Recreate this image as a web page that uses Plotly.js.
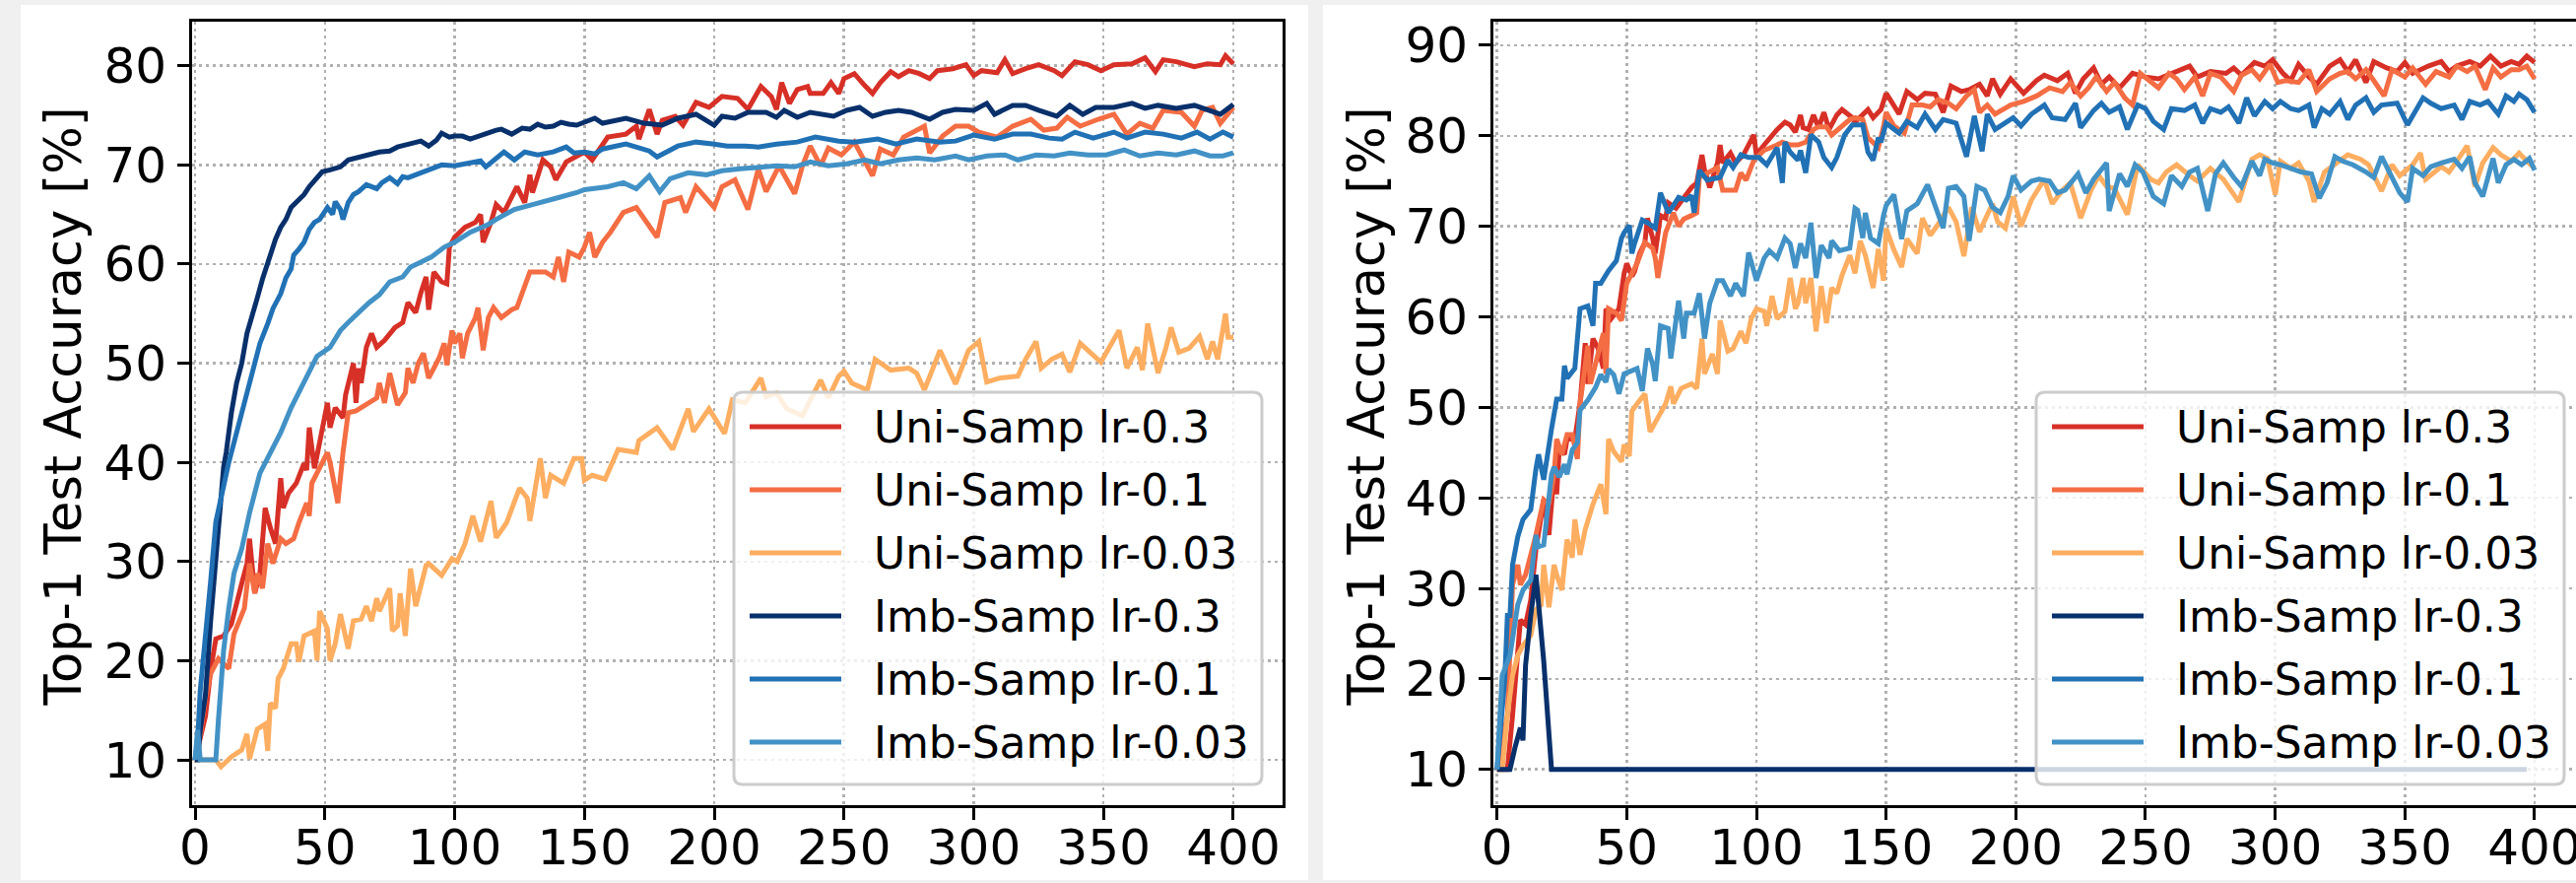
<!DOCTYPE html>
<html>
<head>
<meta charset="utf-8">
<script src="https://cdn.plot.ly/plotly-3.0.1.min.js"></script>
<style>
  html, body { margin: 0; padding: 0; background: #f0f0f0; overflow: hidden; }
  #chart { width: 2660px; height: 896px; }
</style>
</head>
<body>
<div id="chart"></div>
<script>
// ---------------- DATA (epoch, top-1 accuracy %) ----------------
const seriesNames = ['Uni-Samp lr-0.3', 'Uni-Samp lr-0.1', 'Uni-Samp lr-0.03',
                     'Imb-Samp lr-0.3', 'Imb-Samp lr-0.1', 'Imb-Samp lr-0.03'];
const xTicks = [0, 50, 100, 150, 200, 250, 300, 350, 400];
const yTitle = 'Top-1 Test Accuracy [%]';

// Left panel
const leftUni03 = [[0,10],[2,12],[4,14.4],[6,19],[8,22.2],[11,22.5],[14,23.7],[18,27.8],[20,29.8],[21,32.3],[23,26.8],[25,28.8],[27,35.4],[29,33.4],[31,31.8],[33,38.4],[34,35.4],[36,36.9],[39,37.9],[42,39.9],[43,39.2],[44,43.5],[46,39.4],[48,42],[51,46],[52,43.5],[54,45.5],[57,44.5],[58,46.8],[61,50],[62,46],[63,49.5],[64,48],[66,51.6],[68,53],[70,51.6],[73,52.3],[77,53.6],[80,54.1],[82,56.1],[85,55.1],[87,57.1],[89,58.7],[90,55.4],[92,59.2],[95,58.2],[97,58],[98,61.7],[100,62.7],[104,63.7],[108,64.2],[110,65],[111,62.2],[114,64.2],[116,66],[119,65.2],[124,67.8],[127,66.2],[129,69],[130,67.2],[134,70.5],[137,69.8],[139,68.5],[143,70.3],[147,70.8],[150,71.3],[153,70.5],[159,72.8],[166,73.1],[170,73.9],[171,72.6],[175,75.6],[178,73.1],[180,74.5],[185,74.9],[188,74],[193,76.3],[198,75.8],[203,76.9],[209,76.7],[213,75.6],[218,77.9],[222,76.9],[224,75.6],[226,78.3],[229,76.2],[232,77.6],[236,77.9],[237,77.2],[242,77.2],[245,78.3],[248,77.2],[250,78.7],[254,79.2],[258,78],[261,77.2],[264,78.3],[268,79.4],[271,78.9],[275,79.5],[279,79.2],[283,78.7],[286,79.5],[292,79.7],[297,80.1],[300,79],[303,79.5],[309,79.3],[312,80.6],[315,79.2],[320,79.7],[325,80.1],[331,79.5],[334,79],[339,80.4],[344,80.1],[349,79.5],[354,80.1],[361,80.2],[366,80.8],[370,79.4],[373,80.6],[378,80.4],[385,79.9],[390,80.2],[395,80.1],[397,81],[400,80.2]];
const leftUni01 = [[0,10],[2,12.5],[4,16.2],[6,18.7],[9,20.2],[13,19.2],[15,22.7],[19,25.3],[21,29.8],[23,26.8],[24,28.8],[26,27.3],[28,31.8],[30,29.8],[33,32.3],[35,31.8],[38,32.3],[40,33.9],[43,35.9],[44,34.6],[45,37.9],[48,39.4],[51,41],[52,40],[55,35.9],[57,41],[59,45],[62,45.2],[67,46],[70,46.5],[71,48],[73,46],[75,49],[77,47],[78,45.8],[81,47],[82,49.5],[84,48],[86,50],[88,51],[90,48.5],[94,50.5],[96,52],[97,49.8],[99,53.3],[100,52],[102,53],[103,50.5],[105,53],[108,54.6],[109,55.6],[111,51.3],[113,54.6],[115,55.6],[118,54.6],[122,55.4],[124,55.6],[129,59.2],[135,59.2],[138,58.7],[140,60.7],[142,58.2],[144,61.2],[148,60.7],[150,61.7],[152,63.2],[154,60.7],[157,62.2],[160,63.2],[165,65.2],[170,65.7],[178,62.7],[181,66.2],[187,66.7],[189,65.2],[193,67.8],[200,65.7],[203,67.8],[208,68.5],[213,65.5],[217,69.6],[220,67.3],[225,69.9],[231,67.1],[234,69.9],[237,71.9],[241,69.9],[244,71.7],[249,71],[254,72.3],[261,68.9],[264,71.6],[269,71],[273,72.8],[281,73.9],[283,71.2],[288,72.9],[293,73.9],[298,73.9],[302,73.3],[309,72.8],[315,73.9],[322,74.6],[327,73.5],[332,73.7],[336,74.8],[341,73.9],[348,74.6],[354,75.1],[359,73.1],[364,74.2],[369,73.7],[373,75.5],[380,75.3],[385,73.9],[388,75.5],[392,75.8],[395,74.2],[400,75.8]];
const leftUni003 = [[0,10],[5,10],[8,10],[10,9.3],[14,10.3],[18,11],[20,12.6],[21,10.1],[24,13.1],[27,13.6],[28,10.9],[29,15.7],[31,15.2],[32,18.2],[34,19.2],[37,21.7],[39,21.7],[40,19.9],[42,22.5],[46,23],[47,20],[48,25],[51,23.2],[52,20],[54,21.7],[56,24.7],[59,21.2],[61,24],[64,24.2],[66,25.5],[68,24],[70,26.3],[71,25],[75,27.3],[76,23],[78,23.5],[79,26.8],[81,22.5],[83,29.3],[85,25.5],[89,29.6],[90,29.8],[95,28.6],[99,30.3],[101,30],[104,31.8],[107,34.6],[110,32],[114,36.1],[116,32.4],[120,33.9],[125,37.4],[128,36.4],[129,34.1],[133,40.4],[135,36.4],[137,38.7],[142,37.9],[146,40.4],[149,40.4],[150,38.2],[153,38.7],[158,38.3],[163,41.3],[170,41],[171,42.2],[178,43.5],[184,41.3],[190,45.4],[192,43.1],[198,45.4],[204,42.9],[207,46.3],[212,46],[218,48.5],[220,46.6],[224,47],[228,45.4],[234,44.7],[241,48.3],[244,46.5],[248,48.7],[250,49.2],[253,48],[259,47.3],[262,50.4],[268,49.3],[275,49.5],[278,49],[281,47.3],[287,51.3],[293,47.9],[298,51.3],[302,52.2],[305,48.1],[310,48.5],[317,48.7],[320,50.4],[324,52.2],[326,49.5],[330,50.4],[334,50.9],[337,49.1],[341,52],[349,50.1],[352,51.5],[356,53.3],[359,49.5],[363,51.6],[365,49.3],[367,54],[371,49],[374,51.5],[376,53.6],[379,51.1],[383,51.5],[387,52.7],[390,50.4],[392,52.2],[394,50.4],[397,55],[398,52.6],[400,52.6]];
const leftImb03 = [[0,10],[1,10],[2,13],[4,16.5],[6,24],[8,30],[10,36],[11,39.5],[12,41],[14,45],[16,48],[18,50],[20,53],[22,55],[24,56.6],[26,58.5],[29,61],[31,62.5],[33,63.7],[35,64.5],[37,65.7],[40,66.5],[42,67],[44,67.8],[47,68.7],[49,69.3],[52,69.5],[56,69.8],[59,70.5],[62,70.7],[65,71],[68,71.2],[71,71.3],[75,71.4],[78,71.8],[81,72],[84,72.2],[87,72.4],[90,71.9],[93,72.5],[95,73.2],[98,72.8],[100,72.9],[103,72.9],[106,72.6],[110,73],[113,73.2],[116,73.5],[118,73.6],[122,73.1],[126,73.7],[129,73.6],[132,74.1],[135,73.8],[138,73.9],[141,74.3],[144,74.1],[147,74],[150,74.3],[154,74.7],[157,74.2],[159,74.3],[166,74.7],[173,74.2],[180,74],[186,74.7],[193,75.1],[200,74],[203,74.9],[208,74.7],[213,75.3],[220,75.3],[224,74.8],[227,75.5],[232,74.8],[237,75.3],[241,75.1],[246,74.9],[251,75.5],[256,75.8],[261,74.9],[266,75.3],[271,75.5],[276,75.3],[283,74.6],[288,75.3],[293,75.6],[300,75.5],[305,76.2],[308,75.1],[315,76],[320,76],[325,75.5],[332,74.9],[337,76],[342,75.1],[347,75.8],[354,75.8],[361,76.2],[366,75.7],[371,76],[378,75.7],[385,76],[390,75.5],[395,75.1],[400,76.1]];
const leftImb01 = [[0,10],[1,12],[2,17],[4,22],[6,28],[8,34],[10,36.5],[11,38],[13,40],[15,42],[17,44],[19,46],[21,48],[23,50],[25,52],[28,54],[30,55.5],[33,57],[35,58.6],[37,59.5],[38,60.9],[40,61.5],[42,62.2],[44,63.5],[46,64.2],[48,64.5],[51,65.7],[53,65],[54,66.3],[56,65.5],[57,64.5],[59,66.2],[61,67],[63,67.3],[66,68],[70,67.6],[72,68.2],[75,68.7],[78,68.1],[80,68.8],[82,68.7],[85,69],[87,69.2],[90,69.6],[95,70],[100,69.9],[105,70.1],[110,70.4],[112,69.8],[116,70.6],[119,71.3],[123,70.5],[127,71.3],[132,71],[138,71.3],[143,71.8],[146,71.2],[150,71.3],[154,71.1],[157,71.6],[166,72.1],[175,71.4],[178,70.8],[186,71.9],[193,72.3],[200,72.1],[205,71.9],[212,71.9],[217,71.8],[224,72.1],[232,72.3],[239,72.8],[248,72.4],[254,72.3],[263,72.6],[270,72.1],[278,72.6],[287,72.3],[293,72.4],[300,73],[308,72.6],[315,73.1],[322,73.1],[329,72.7],[334,72.6],[339,73.3],[346,72.7],[354,73.3],[359,72.7],[366,73.3],[373,73.1],[380,72.7],[386,73.3],[391,72.6],[396,73.3],[400,72.8]];
const leftImb003 = [[0,10],[1,13],[2,10],[4,10],[6,10],[8,10],[9,14],[10,18.2],[11,21],[13,25.3],[15,28.8],[18,31.3],[21,34.9],[25,38.9],[29,41],[33,43],[37,45.5],[40,47],[44,49],[47,50.7],[52,51.6],[56,53.3],[59,54.1],[63,55.1],[67,56.1],[71,56.9],[75,58.2],[80,58.7],[83,59.7],[87,60.2],[91,60.7],[96,61.7],[100,62.2],[106,63.2],[113,64],[116,64.5],[123,65.5],[130,66],[135,66.3],[140,66.7],[147,67.2],[150,67.5],[153,67.6],[159,67.8],[165,68.2],[170,67.6],[175,68.9],[179,67.3],[183,68.6],[190,69.2],[197,69],[203,69.4],[210,69.6],[217,69.8],[224,69.9],[231,69.8],[237,70.3],[244,69.9],[251,70.1],[258,70.5],[264,70.1],[271,70.5],[278,70.7],[285,70.5],[293,70.9],[298,70.5],[305,70.9],[312,71],[317,70.5],[324,71],[331,70.9],[337,71.2],[344,71],[351,71],[358,71.5],[364,70.9],[371,71.2],[378,71],[385,71.4],[391,70.9],[396,70.9],[400,71.2]];

// Right panel
const rightUni03 = [[0,10],[4,10],[6,16],[8,23.7],[9,26.5],[11,26],[13,28.7],[15,34.3],[18,39.8],[20,35.9],[22,42.6],[23,40.4],[24,45.4],[26,44.8],[27,46.5],[30,46.5],[32,50.4],[34,57.1],[35,52.6],[37,57.6],[39,56.5],[41,54.3],[42,60.9],[44,59.8],[47,60.9],[49,64.8],[50,65.9],[52,64.5],[53,65],[55,67],[57,68.2],[58,70.9],[60,68.7],[61,67],[63,71.2],[65,70.9],[66,72.6],[69,72],[72,73.2],[75,74.3],[77,74.8],[79,77.9],[80,76.2],[82,74.3],[85,77],[86,79],[87,77],[90,78.1],[92,77],[95,77.9],[99,80.1],[100,77.9],[103,79],[108,80.7],[111,81.5],[113,81.2],[115,80.4],[117,82.3],[118,80.9],[120,80.7],[122,82.3],[124,80.9],[126,82.6],[128,80.7],[131,82.3],[133,82.9],[137,82],[138,81.5],[143,82.9],[145,82],[148,82.9],[150,84.7],[152,83.8],[155,82.4],[158,84.9],[162,84],[165,84.7],[169,84.6],[172,82.6],[175,85.5],[179,84.9],[182,85.1],[186,85.7],[189,84.4],[191,86.3],[194,84.6],[198,86.3],[203,84.7],[208,86.1],[211,86.7],[216,86.1],[220,86.9],[223,84.7],[226,86.3],[230,87.5],[233,85.7],[236,86.5],[240,85.3],[245,86.9],[250,86.5],[255,86.3],[260,86.9],[267,87.7],[270,86.5],[275,87.1],[281,86.9],[284,87.5],[287,86.7],[292,88.1],[296,87.7],[299,88.4],[303,86.9],[306,86.1],[309,87.9],[313,86.5],[316,85.7],[321,87.7],[325,88.4],[328,87.1],[331,88.4],[335,85.9],[338,88.2],[343,87.5],[347,87.1],[350,88.1],[353,86.9],[359,87.7],[364,88.2],[367,87.1],[370,87.7],[375,88.2],[379,87.7],[383,88.8],[387,87.7],[391,88.2],[394,87.9],[397,88.8],[400,88.1]];
const rightUni01 = [[0,10],[4,16],[6,30.4],[8,32.6],[9,30.4],[11,31.5],[13,33.7],[15,35.9],[18,39.8],[20,39.3],[22,42.6],[23,46.5],[25,44.8],[27,47],[29,47],[31,44.3],[32,50.4],[35,56.8],[36,52.6],[38,54.8],[41,58.2],[42,53.7],[43,60.9],[46,60.4],[48,59.6],[50,63.7],[52,64.8],[54,65.9],[57,68.2],[60,67.6],[61,66.5],[62,64.3],[65,69.3],[68,71.5],[70,70],[72,70.8],[75,71.2],[77,71.5],[78,75.4],[81,75.9],[85,76.5],[87,74],[90,74],[92,74],[94,75.9],[96,75.1],[99,77.3],[103,78.4],[108,79],[110,79.3],[113,79],[116,79],[119,79.3],[122,80.7],[124,81],[127,81],[129,80.1],[133,81],[136,81.8],[138,82],[141,81.8],[143,79.8],[147,78.7],[149,81],[150,82.6],[153,81.1],[157,80.3],[160,83.4],[164,83.4],[167,83.2],[170,84],[174,83.6],[177,83],[181,84.4],[184,85.1],[186,82.6],[189,83.4],[192,82.4],[198,83.4],[203,83.8],[208,84.4],[213,85.3],[218,84.9],[221,85.9],[225,84.4],[228,85.3],[231,86.5],[235,84.9],[238,85.9],[242,84.2],[245,83.4],[248,86.9],[252,85.9],[255,85.3],[259,86.9],[262,86.3],[265,85.1],[269,86.5],[272,84.4],[275,86.9],[279,86.5],[284,84.9],[287,86.7],[291,87.3],[294,86.3],[298,87.9],[301,85.9],[304,86.1],[309,85.9],[313,87.3],[316,84.9],[321,86.3],[325,86.9],[328,87.1],[331,86.3],[335,87.3],[338,86.1],[342,84.4],[345,87.3],[350,86.5],[353,87.5],[358,85.7],[362,87.1],[367,86.5],[370,87.7],[374,87.1],[377,87.7],[381,85.1],[384,87.5],[387,86.5],[391,87.3],[394,87.3],[397,87.7],[400,86.3]];
const rightUni003 = [[0,10],[2,10],[4,16],[6,20.4],[8,22.6],[10,23.7],[13,24.8],[15,27.6],[17,28.2],[18,32.6],[20,27.9],[22,32.6],[23,31.5],[25,29.8],[27,35.4],[29,33.4],[30,37.6],[32,33.7],[34,36.5],[37,39.3],[40,41.5],[41,39.8],[42,38.2],[43,46.5],[45,45.1],[48,44],[49,45.9],[51,44.6],[52,49.6],[54,50.4],[57,51.5],[59,47.3],[62,49],[65,50.4],[67,52.3],[68,50.4],[71,52.1],[75,52.6],[77,52.1],[79,57.6],[80,53.7],[83,55.9],[85,53.7],[86,59.6],[89,56.2],[91,56.5],[94,58.4],[96,57.1],[98,59.8],[100,60.9],[103,60.6],[104,59],[106,62.3],[108,59.8],[111,60.6],[113,64.3],[115,60.9],[116,61.5],[118,64.3],[119,61.5],[121,64.3],[123,58.4],[125,63.4],[127,59.3],[129,63.2],[131,62.6],[133,64.6],[136,66.8],[138,64.8],[140,68.4],[142,66.8],[145,63.2],[147,67.5],[149,64],[150,69.8],[153,67.4],[156,65.5],[158,68.6],[162,67],[164,70.9],[167,69],[170,70.2],[174,72.1],[177,70.5],[180,66.7],[183,72.1],[186,69.4],[191,72.5],[193,70.5],[196,69.8],[199,73.3],[202,70],[206,72.9],[211,75.2],[214,72.5],[218,74],[221,74.8],[225,70.9],[229,74],[232,75.6],[235,74.4],[238,74.2],[243,71.3],[247,76.8],[252,75.2],[255,74.8],[258,76],[262,76.8],[267,75.6],[270,75],[275,76.4],[280,75.2],[286,72.7],[291,77.4],[294,77.9],[297,77.5],[300,73.5],[302,77.2],[306,76.4],[309,77],[313,75],[315,72.7],[319,76],[325,77.2],[328,77.9],[333,77.4],[336,76.8],[341,73.9],[345,76.8],[348,75.6],[353,76.8],[356,78.1],[358,75.2],[364,76.6],[367,76],[370,77.2],[374,78.9],[377,74.4],[380,77],[384,78.7],[387,77.9],[391,77.2],[394,78.1],[397,77.2],[400,76.4]];
const rightImb03 = [[0,10],[3,10],[5,10],[7,12.5],[9,14.6],[10,13.2],[11,21.5],[13,27],[15,31.5],[18,22],[21,10],[397,10]];
const rightImb01 = [[0,10],[3,20],[4,27],[5,27],[6,32.6],[8,35.7],[10,37.6],[13,38.7],[15,43.2],[16,44.8],[18,42],[19,44.2],[21,47.6],[23,50.9],[25,50.9],[26,54.6],[27,53.2],[30,54.3],[32,60.9],[35,61.2],[37,59],[38,63.7],[40,63.7],[43,65.1],[46,66.2],[48,68.7],[49,69.3],[51,70.1],[52,67],[53,68.1],[56,70.7],[58,70.4],[61,69.8],[63,73.7],[66,71.5],[68,72.3],[70,73.2],[73,72.9],[75,73.4],[76,71.5],[78,76.2],[81,75.1],[86,75.4],[89,77.3],[91,76.5],[94,77.9],[97,77.6],[99,77.6],[101,77.6],[104,76.8],[108,78.7],[110,74.8],[111,79.3],[113,78.2],[116,77.3],[117,78.4],[119,75.9],[121,80.1],[124,79.3],[126,77.6],[129,76.5],[131,77.6],[134,80.1],[137,81.2],[141,81.2],[143,78.2],[145,77.3],[147,79.8],[148,79.3],[150,81.4],[155,80.3],[158,81.6],[162,80.9],[165,82.4],[169,80.7],[172,81.8],[177,81.4],[181,77.7],[184,82.2],[187,78.3],[189,82.4],[192,80.7],[196,81.4],[199,82],[202,81.1],[206,82.4],[211,83.4],[214,82],[219,81.8],[223,83.6],[225,80.9],[230,82.8],[233,83.6],[236,82.6],[240,83.2],[243,80.7],[247,83.4],[250,83],[253,81.6],[257,80.7],[260,83],[265,82.8],[269,83.4],[272,81.4],[275,83],[279,82.6],[282,83.2],[286,81.4],[289,84.2],[292,82.2],[296,83.8],[299,83],[302,83.8],[306,83],[309,82.8],[313,83.4],[315,80.9],[318,83],[321,82.4],[325,83.8],[328,81.8],[331,83.4],[335,84.2],[338,82.6],[341,83.4],[347,83.6],[351,81.2],[353,82.2],[357,84.2],[360,83.6],[364,83],[369,83.4],[372,81.8],[375,83.8],[379,83.4],[382,83.8],[386,82.4],[389,84.4],[392,83.8],[394,84.6],[397,84],[400,82.6]];
const rightImb003 = [[0,10],[2,20.4],[5,22.6],[8,28.2],[10,29.8],[13,30.9],[15,35.9],[16,34.6],[18,34.8],[20,39.8],[21,42.6],[22,43.4],[24,42.3],[26,43.7],[27,42.6],[29,45.3],[31,46.1],[32,49.7],[35,50.8],[38,52.2],[40,53.6],[42,52.8],[43,54.2],[45,53.6],[47,51.5],[49,53.7],[52,54],[54,54.3],[56,51.8],[58,56.5],[60,54.8],[61,52.9],[63,59],[66,58.7],[67,55.4],[70,61.8],[72,57.6],[73,60.4],[76,60.4],[78,62.6],[80,57.6],[82,61.5],[85,64],[87,64],[90,62.3],[92,63.7],[95,62.3],[97,67.1],[100,64],[103,66.5],[105,67.3],[108,66.5],[111,68.7],[113,68.1],[115,65.4],[117,68.1],[119,66.5],[121,70.4],[123,64.3],[125,67.9],[128,66.5],[129,68.4],[132,67.3],[136,67.6],[138,72],[139,71.8],[141,68.7],[142,71.5],[144,68.7],[147,68.1],[149,71.2],[150,72.3],[153,73.5],[156,68.6],[158,71.7],[162,72.5],[166,74.6],[169,72.3],[172,69.8],[174,74.2],[177,74.4],[180,73.3],[182,68.4],[185,74.4],[188,74],[191,72.1],[194,71.5],[197,73.3],[199,75.6],[202,74],[206,75],[209,75.2],[213,75],[216,73.7],[219,74],[224,75.8],[227,73.7],[230,75.2],[235,77],[236,71.7],[240,75.8],[243,74.4],[246,76.8],[249,76],[253,73.3],[257,72.5],[260,75.6],[264,74.4],[267,76],[270,76.4],[274,71.7],[277,75.8],[280,77],[284,75.4],[287,74.4],[291,77.2],[294,75.6],[296,77.4],[299,77],[302,76.8],[306,76.4],[310,76],[314,75.8],[317,73.1],[320,74.8],[323,77.7],[326,77.2],[330,76.8],[335,76],[338,75.4],[341,77.7],[343,76.6],[348,73.7],[351,72.7],[353,76.4],[357,75.6],[360,76.6],[364,77],[369,77.4],[372,76.4],[375,77.7],[377,74.8],[380,73.3],[384,77.5],[386,74.8],[389,76.8],[392,77.4],[395,76.8],[398,77.5],[400,76.2]];

const seriesColors = ['#d73027', '#f46d43', '#fdae61', '#08306b', '#2171b5', '#4292c6'];

// ---------------- LAYOUT GEOMETRY ----------------
const W = 2660, H = 896;
const fx = p => p / W;
const fy = p => 1 - p / H;
const FONT = 'DejaVu Sans, Liberation Sans, sans-serif';
const LW = 5;

const leftData = [leftUni03, leftUni01, leftUni003, leftImb03, leftImb01, leftImb003];
const rightData = [rightUni03, rightUni01, rightUni003, rightImb03, rightImb01, rightImb003];

const traces = [];
function addPanel(data, xa, ya) {
  data.forEach((pts, i) => {
    traces.push({
      type: 'scatter', mode: 'lines',
      x: pts.map(p => p[0]), y: pts.map(p => p[1]),
      name: seriesNames[i],
      xaxis: xa, yaxis: ya,
      showlegend: false,
      line: { color: seriesColors[i], width: LW },
      hoverinfo: 'skip'
    });
  });
}
addPanel(leftData, 'x', 'y');
addPanel(rightData, 'x2', 'y2');

const axisStyle = {
  showline: true, linecolor: '#000', linewidth: 3, mirror: true,
  ticks: 'outside', ticklen: 12, tickwidth: 3, tickcolor: '#000',
  showgrid: true, gridcolor: '#b0b0b0', gridwidth: 2.5, griddash: '3px,4px',
  zeroline: false,
  tickfont: { family: FONT, size: 50, color: '#000' },
  fixedrange: true
};

const shapes = [
  { type: 'rect', xref: 'paper', yref: 'paper', x0: fx(21), x1: fx(1328), y0: fy(893), y1: fy(5),
    fillcolor: '#ffffff', line: { width: 0 }, layer: 'below' },
  { type: 'rect', xref: 'paper', yref: 'paper', x0: fx(1343), x1: 1, y0: fy(893), y1: fy(5),
    fillcolor: '#ffffff', line: { width: 0 }, layer: 'below' }
];
const annotations = [
  { text: yTitle, xref: 'paper', yref: 'paper', x: fx(64), y: fy(412.5),
    xanchor: 'center', yanchor: 'middle', textangle: -90, showarrow: false,
    font: { family: FONT, size: 51, color: '#000' } },
  { text: yTitle, xref: 'paper', yref: 'paper', x: fx(1387), y: fy(412.5),
    xanchor: 'center', yanchor: 'middle', textangle: -90, showarrow: false,
    font: { family: FONT, size: 51, color: '#000' } }
];

// Legend box (matplotlib style: rounded, translucent white, light grey edge)
function addLegend(bx, by) {
  const bw = 536, bh = 398, r = 9;
  const x0 = bx, x1 = bx + bw, y0 = by, y1 = by + bh;
  const P = (x, y) => fx(x) + ',' + fy(y);
  const path = 'M' + P(x0 + r, y0) + ' L' + P(x1 - r, y0) + ' Q' + P(x1, y0) + ' ' + P(x1, y0 + r) +
               ' L' + P(x1, y1 - r) + ' Q' + P(x1, y1) + ' ' + P(x1 - r, y1) +
               ' L' + P(x0 + r, y1) + ' Q' + P(x0, y1) + ' ' + P(x0, y1 - r) +
               ' L' + P(x0, y0 + r) + ' Q' + P(x0, y0) + ' ' + P(x0 + r, y0) + ' Z';
  shapes.push({ type: 'path', xref: 'paper', yref: 'paper', path: path,
    fillcolor: 'rgba(255,255,255,0.8)', line: { color: '#cccccc', width: 3 }, layer: 'above' });
  seriesNames.forEach((name, i) => {
    const ry = by + 35 + 64 * i;
    shapes.push({ type: 'line', xref: 'paper', yref: 'paper',
      x0: fx(bx + 16), x1: fx(bx + 109), y0: fy(ry), y1: fy(ry),
      line: { color: seriesColors[i], width: LW }, layer: 'above' });
    annotations.push({ text: name, xref: 'paper', yref: 'paper',
      x: fx(bx + 142), y: fy(ry), xanchor: 'left', yanchor: 'middle',
      showarrow: false, borderpad: 0, borderwidth: 0,
      font: { family: FONT, size: 44, color: '#000' } });
  });
}
addLegend(745, 398);
addLegend(2067, 398);

const layout = {
  width: W, height: H,
  margin: { l: 0, r: 0, t: 0, b: 0, pad: 0 },
  paper_bgcolor: '#f0f0f0', plot_bgcolor: '#ffffff',
  showlegend: false,
  xaxis: Object.assign({}, axisStyle, {
    domain: [fx(195), fx(1302)], range: [-1.14, 418.98], anchor: 'y',
    tickmode: 'array', tickvals: xTicks, ticktext: xTicks.map(String), ticklabelstandoff: -15
  }),
  yaxis: Object.assign({}, axisStyle, {
    domain: [fy(817), fy(22)], range: [5.43, 84.44], anchor: 'x',
    tickmode: 'linear', tick0: 10, dtick: 10, ticklabelstandoff: 1
  }),
  xaxis2: Object.assign({}, axisStyle, {
    domain: [fx(1516), fx(2623)], range: [-1.4, 419], anchor: 'y2',
    tickmode: 'array', tickvals: xTicks, ticktext: xTicks.map(String), ticklabelstandoff: -15
  }),
  yaxis2: Object.assign({}, axisStyle, {
    domain: [fy(817), fy(22)], range: [6.05, 92.61], anchor: 'x2',
    tickmode: 'linear', tick0: 10, dtick: 10, ticklabelstandoff: 1
  }),
  shapes: shapes,
  annotations: annotations
};

Plotly.newPlot('chart', traces, layout, { displayModeBar: false, staticPlot: true });
</script>
</body>
</html>
